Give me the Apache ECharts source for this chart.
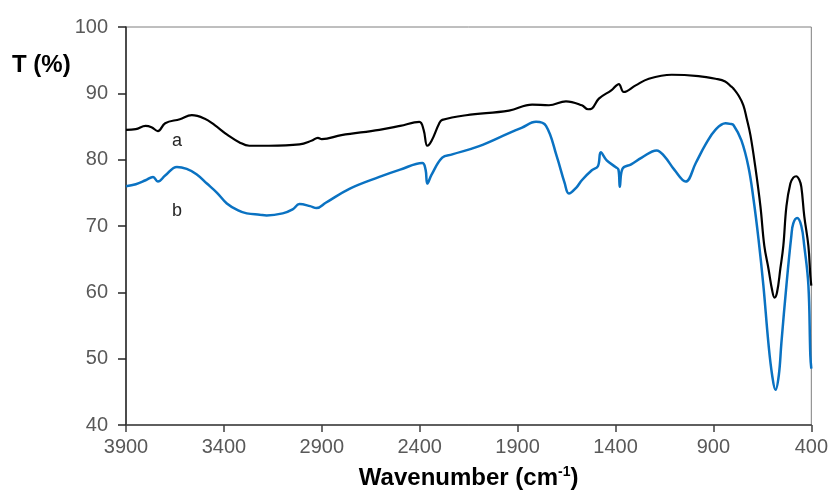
<!DOCTYPE html>
<html>
<head>
<meta charset="utf-8">
<script src="https://cdn.jsdelivr.net/npm/echarts@6/dist/echarts.min.js"></script>
<style>
  html, body { margin: 0; padding: 0; background: #fff; }
  #chart { width: 831px; height: 495px; }
</style>
</head>
<body>
<div id="chart"></div>
<script>
// spectrum a (black)
var waveA = [3900, 3850, 3800, 3770, 3737, 3700, 3625, 3564, 3500, 3447, 3380, 3320, 3270, 3170, 3014, 2950, 2920, 2900, 2800, 2606, 2500, 2402, 2380, 2361, 2340, 2300, 2285, 2163, 1944, 1826, 1740, 1653, 1572, 1540, 1521, 1485, 1420, 1399, 1383, 1358, 1297, 1230, 1113, 976, 889, 840, 808, 797, 770, 747, 730, 711, 686, 660, 640, 619, 600, 588, 575, 558, 543, 527, 507, 492, 477, 462, 451, 436, 415, 405, 400];
var transA = [84.5, 84.6, 85.1, 84.9, 84.3, 85.5, 86.1, 86.7, 86.2, 85.2, 83.7, 82.6, 82.1, 82.1, 82.3, 82.9, 83.3, 83.1, 83.7, 84.5, 85.1, 85.7, 84.5, 82.1, 82.8, 85.5, 86.0, 86.7, 87.4, 88.3, 88.2, 88.8, 88.2, 87.6, 87.7, 89.2, 90.5, 91.1, 91.4, 90.2, 91.2, 92.2, 92.8, 92.6, 92.2, 91.8, 91.0, 90.7, 89.6, 88.2, 86.2, 83.7, 78.9, 73.0, 67.0, 63.6, 60.3, 59.2, 60.0, 63.6, 67.0, 73.0, 76.4, 77.3, 77.5, 77.0, 75.9, 71.5, 67.0, 62.5, 61.0];

// spectrum b (blue)
var waveB = [3900, 3850, 3800, 3762, 3737, 3700, 3640, 3590, 3540, 3487, 3435, 3385, 3330, 3283, 3217, 3182, 3100, 3049, 3014, 2960, 2927, 2880, 2759, 2606, 2500, 2387, 2370, 2361, 2340, 2285, 2234, 2100, 1944, 1880, 1806, 1755, 1700, 1660, 1638, 1600, 1572, 1521, 1490, 1475, 1445, 1400, 1385, 1378, 1365, 1320, 1266, 1190, 1150, 1100, 1042, 990, 940, 890, 838, 815, 797, 757, 721, 695, 670, 645, 619, 600, 583, 566, 553, 527, 502, 492, 472, 451, 436, 415, 405, 400];
var transB = [76.0, 76.3, 76.9, 77.4, 76.7, 77.6, 78.9, 78.6, 77.8, 76.4, 75.0, 73.4, 72.4, 71.9, 71.7, 71.6, 71.9, 72.5, 73.3, 73.0, 72.7, 73.5, 75.6, 77.4, 78.5, 79.5, 78.5, 76.4, 77.7, 80.3, 80.8, 82.0, 84.0, 84.8, 85.7, 85.1, 80.5, 76.5, 74.9, 75.8, 76.9, 78.4, 79.0, 81.1, 79.9, 78.9, 78.5, 75.9, 78.6, 79.3, 80.3, 81.4, 80.5, 78.5, 76.7, 79.5, 82.3, 84.5, 85.5, 85.4, 85.2, 82.9, 78.9, 74.0, 68.1, 61.1, 52.3, 47.5, 45.3, 47.5, 52.3, 61.1, 68.5, 70.4, 71.2, 70.0, 67.0, 61.1, 50.5, 48.5];

var xTicks = [400, 900, 1400, 1900, 2400, 2900, 3400, 3900];
var yTicks = [40, 50, 60, 70, 80, 90, 100];

function pairs(xs, ys) {
    return xs.map(function (x, i) { return [x, ys[i]]; });
}

var chart = echarts.init(document.getElementById('chart'));
var font = '"Liberation Sans", Arial, sans-serif';

var option = {
    backgroundColor: '#fff',
    animation: false,
    grid: {
        left: 126, right: 18, top: 27, bottom: 62,
        show: true, borderColor: '#7f7f7f', borderWidth: 1
    },
    xAxis: {
        type: 'value',
        inverse: true,
        min: xTicks[0],
        max: xTicks[xTicks.length - 1],
        interval: 500,
        name: '{t|Wavenumber (cm}{s|-1}{t|)}',
        nameLocation: 'middle',
        nameGap: 40,
        nameTextStyle: {
            rich: {
                t: { fontFamily: font, fontSize: 24, fontWeight: 'bold', color: '#000', lineHeight: 26 },
                s: { fontFamily: font, fontSize: 14, fontWeight: 'bold', color: '#000', verticalAlign: 'top', lineHeight: 26 }
            }
        },
        axisLine: { onZero: false, lineStyle: { color: '#404040', width: 1.5 } },
        axisTick: { show: true, inside: false, length: 7, lineStyle: { color: '#404040', width: 1.5 } },
        axisLabel: {
            margin: 12, fontFamily: font, fontSize: 20, color: '#595959',
            formatter: function (v) { return String(v); }
        },
        splitLine: { show: false }
    },
    yAxis: {
        type: 'value',
        min: yTicks[0],
        max: yTicks[yTicks.length - 1],
        interval: 10,
        axisLine: { show: true, onZero: false, lineStyle: { color: '#262626', width: 1.5 } },
        axisTick: { show: true, inside: false, length: 8, lineStyle: { color: '#262626', width: 1.5 } },
        axisLabel: { margin: 18, fontFamily: font, fontSize: 20, color: '#595959' },
        splitLine: { show: false }
    },
    graphic: [
        { type: 'text', left: 12, top: 53, style: { text: 'T (%)', font: 'bold 24px ' + font, fill: '#000' } },
        { type: 'text', left: 172, top: 132, style: { text: 'a', font: '18px ' + font, fill: '#262626' } },
        { type: 'text', left: 172, top: 202, style: { text: 'b', font: '18px ' + font, fill: '#262626' } }
    ],
    series: [
        {
            name: 'a',
            type: 'line',
            data: pairs(waveA, transA),
            showSymbol: false,
            smooth: 0.4,
            lineStyle: { color: '#000', width: 2.2 },
            itemStyle: { color: '#000' }
        },
        {
            name: 'b',
            type: 'line',
            data: pairs(waveB, transB),
            showSymbol: false,
            smooth: 0.4,
            lineStyle: { color: '#0a72c2', width: 2.5 },
            itemStyle: { color: '#0a72c2' }
        }
    ]
};
chart.setOption(option);
</script>
</body>
</html>
